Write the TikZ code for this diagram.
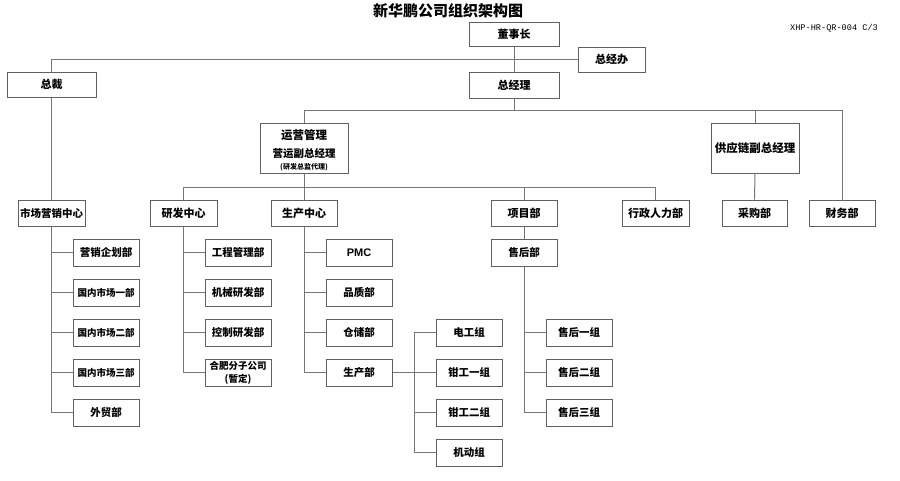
\documentclass[tikz,border=0pt]{standalone}
\usepackage{fontspec}
\setmainfont{Noto Sans CJK SC}
\newfontfamily\codefont{Liberation Mono}
\definecolor{boxgray}{HTML}{606060}
\definecolor{linegray}{HTML}{777777}
\begin{document}
\begin{tikzpicture}[x=1pt,y=-1pt,
  box/.style={draw=boxgray, line width=1pt, minimum width=66pt, minimum height=27pt, inner sep=0pt,
    font=\bfseries\fontsize{10.5}{12}\selectfont},
  smallbox/.style={box, font=\bfseries\fontsize{9.5}{12}\selectfont},
  wide/.style={box, minimum width=89pt, minimum height=25pt, font=\bfseries\fontsize{11}{13}\selectfont},
  tall/.style={box, minimum width=88pt, minimum height=50pt},
  txt/.style={inner sep=0pt, font=\bfseries\fontsize{10.5}{12}\selectfont},
  conn/.style={draw=linegray, line width=1pt}]
\useasboundingbox (0,0) rectangle (900,480);

% title and code
\node[inner sep=0pt, font=\bfseries\fontsize{15}{17}\selectfont] (title) at (448,11) {新华鹏公司组织架构图};
\node[inner sep=0pt, font=\codefont\fontsize{8.6}{10}\selectfont] (code) at (834,28) {XHP-HR-QR-004 C/3};

% top level
\node[wide, minimum width=90pt, minimum height=24pt] (dsz) at (514,34) {董事长};
\node[box, minimum width=67pt, minimum height=25pt, font=\bfseries\fontsize{11}{13}\selectfont] (zjb) at (611.5,59.5) {总经办};
\node[wide, minimum width=90pt, minimum height=26pt] (zjl) at (514,85) {总经理};
\node[wide] (zc) at (51.5,84.5) {总裁};

% second level
\node[tall] (yygl) at (304,148) {};
\node[txt, font=\bfseries\fontsize{11.5}{13}\selectfont] (yygl1) at (304,135) {运营管理};
\node[txt] (yygl2) at (304,154) {营运副总经理};
\node[txt, font=\bfseries\fontsize{7}{8}\selectfont] (yygl3) at (304,167) {(研发总监代理)};
\node[tall, font=\bfseries\fontsize{11.5}{13}\selectfont] (gyl) at (755,148) {供应链副总经理};

% third level
\node[box, minimum width=67pt, minimum height=26pt] (scyx) at (51.5,213) {市场营销中心};
\node[box, minimum width=67pt, minimum height=26pt, font=\bfseries\fontsize{11}{13}\selectfont] (yfzx) at (183.5,213) {研发中心};
\node[box, minimum height=26pt, font=\bfseries\fontsize{11}{13}\selectfont] (sczx) at (304,213) {生产中心};
\node[box, minimum height=26pt, font=\bfseries\fontsize{11}{13}\selectfont] (xmb) at (524,213) {项目部};
\node[box, minimum width=67pt, minimum height=26pt, font=\bfseries\fontsize{11}{13}\selectfont] (xzrl) at (655.5,213) {行政人力部};
\node[box, minimum width=65pt, minimum height=26pt, font=\bfseries\fontsize{11}{13}\selectfont] (cgb) at (754.5,213) {采购部};
\node[box, minimum height=26pt, font=\bfseries\fontsize{11}{13}\selectfont] (cwb) at (842,213) {财务部};

% marketing children
\node[box] (m1) at (106,252.5) {营销企划部};
\node[smallbox] (m2) at (106,292.5) {国内市场一部};
\node[smallbox] (m3) at (106,332.5) {国内市场二部};
\node[smallbox] (m4) at (106,372.5) {国内市场三部};
\node[box] (m5) at (106,412.5) {外贸部};

% R&D children
\node[box] (r1) at (238,252.5) {工程管理部};
\node[box] (r2) at (238,292.5) {机械研发部};
\node[box] (r3) at (238,332.5) {控制研发部};
\node[smallbox, align=center, font=\bfseries\fontsize{9.5}{13}\selectfont] (r4) at (238,372.5) {合肥分子公司\\(暂定)};

% production children
\node[box, font=\bfseries\fontsize{11}{13}\selectfont] (p1) at (359,252.5) {\fontspec{Liberation Sans}PMC};
\node[box] (p2) at (359,292.5) {品质部};
\node[box] (p3) at (359,332.5) {仓储部};
\node[box] (p4) at (359,372.5) {生产部};

% production dept groups
\node[box] (g1) at (469,332.5) {电工组};
\node[box] (g2) at (469,372.5) {钳工一组};
\node[box] (g3) at (469,412.5) {钳工二组};
\node[box] (g4) at (469,452.5) {机动组};

% after-sales
\node[box] (shb) at (524,252.5) {售后部};
\node[box] (s1) at (579,332.5) {售后一组};
\node[box] (s2) at (579,372.5) {售后二组};
\node[box] (s3) at (579,412.5) {售后三组};

% connectors top
\draw[conn] (zc.north) |- (zjb.west);
\draw[conn] (dsz.south) -- (zjl.north);
\draw[conn] (zc.south) -- (scyx.north);
\coordinate (bus1) at (514,110);
\coordinate (bus2) at (304,187);
\coordinate (trunk) at (414,372.5);
\draw[conn] (zjl.south) -- (bus1);
\draw[conn] (yygl.north) |- (cwb.north |- bus1) -- (cwb.north);
\draw[conn] (gyl.north) -- (gyl.north |- bus1);
\draw[conn] (yygl.south) -- (sczx.north);
\draw[conn] (yfzx.north) |- (xzrl.north |- bus2) -- (xzrl.north);
\draw[conn] (xmb.north) -- (xmb.north |- bus2);
\draw[conn] (gyl.south) -- (cgb.north);
\draw[conn] (xmb.south) -- (shb.north);

% children connectors
\draw[conn] (scyx.south) |- (m5.west);
\foreach \c in {m1,m2,m3,m4} \draw[conn] (scyx.south |- \c.west) -- (\c.west);
\draw[conn] (yfzx.south) |- (r4.west);
\foreach \c in {r1,r2,r3} \draw[conn] (yfzx.south |- \c.west) -- (\c.west);
\draw[conn] (sczx.south) |- (p4.west);
\foreach \c in {p1,p2,p3} \draw[conn] (sczx.south |- \c.west) -- (\c.west);
\draw[conn] (shb.south) |- (s3.west);
\foreach \c in {s1,s2} \draw[conn] (shb.south |- \c.west) -- (\c.west);
\draw[conn] (p4.east) -- (g2.west);
\draw[conn] (g1.west) -| (trunk |- g4.west) -- (g4.west);
\draw[conn] (trunk |- g3.west) -- (g3.west);
\end{tikzpicture}
\end{document}
